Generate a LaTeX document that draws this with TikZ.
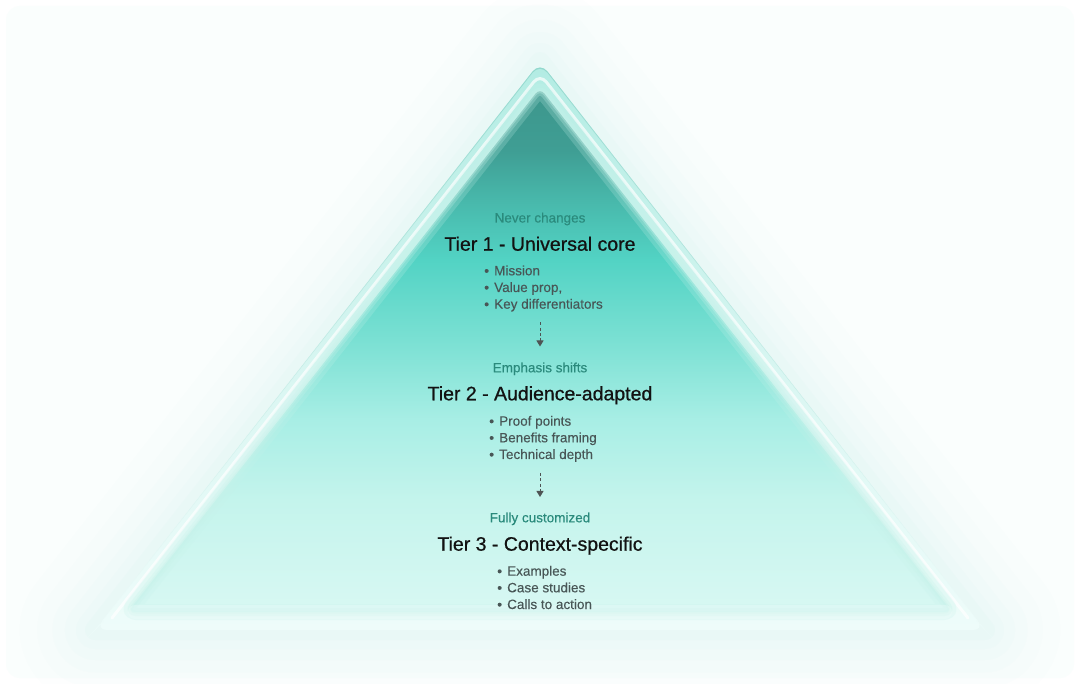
\documentclass[tikz,border=0pt]{standalone}
\usepackage{fontspec}
\setmainfont{Liberation Sans}
\newfontface\medfont{Liberation Sans}[FakeBold=0.7]
\newfontface\regfont{Liberation Sans}[FakeBold=0.25]
\usetikzlibrary{arrows.meta}

\definecolor{g0}{HTML}{D8F8F3}
\definecolor{g1}{HTML}{C4F4EC}
\definecolor{g2}{HTML}{A8EEE5}
\definecolor{g3}{HTML}{7AE0D3}
\definecolor{g4}{HTML}{52D3C4}
\definecolor{g5}{HTML}{48B8AB}
\definecolor{g6}{HTML}{3F9E94}
\definecolor{g7}{HTML}{3D968C}
\definecolor{bandtop}{HTML}{B2ECE3}
\definecolor{bandbot}{HTML}{EEFCFA}
\definecolor{bandline}{HTML}{8FD6CB}
\definecolor{glowc}{HTML}{D3F5EF}
\definecolor{softc}{HTML}{C6F2EA}
\definecolor{subc}{HTML}{2A8A7C}
\definecolor{itemc}{HTML}{485656}
\definecolor{arrc}{HTML}{4E5454}

\pgfdeclareverticalshading{tealgrad}{100bp}{color(0bp)=(g0); color(25bp)=(g0); color(35.7bp)=(g1); color(43.3bp)=(g2); color(51bp)=(g3); color(58.6bp)=(g4); color(64.3bp)=(g5); color(69bp)=(g6); color(75bp)=(g7); color(100bp)=(g7)}
\pgfdeclareverticalshading{bandgrad}{100bp}{color(0bp)=(bandbot); color(25bp)=(bandbot); color(45bp)=(bandbot!70!bandtop); color(75bp)=(bandtop); color(100bp)=(bandtop)}

\tikzset{
  subtxt/.style={font=\regfont\fontsize{13.5}{16}\selectfont, text=subc, anchor=base, inner sep=0pt},
  tiertxt/.style={font=\medfont\fontsize{19.5}{22}\selectfont, text=black!93, anchor=base, inner sep=0pt},
  itemtxt/.style={font=\regfont\fontsize{13.5}{16}\selectfont, text=itemc, anchor=base west, inner sep=0pt},
  dasharrow/.style={draw=arrc, line width=1pt, dash pattern=on 3pt off 2.3pt, -{Triangle[length=6pt,width=7pt]}},
}
\newcommand{\bul}{\makebox[10pt][l]{\raisebox{-0.3pt}{\fontsize{14}{14}\selectfont •}}}

\begin{document}
\begin{tikzpicture}[x=1pt,y=-1pt]
\useasboundingbox (0,0) rectangle (1080,684);
\fill[white] (0,0) rectangle (1080,684);
\fill[fill=glowc!12, rounded corners=14pt] (6,6) rectangle (1074,678);

% outer glow
\foreach \w/\o in {150/0.04,115/0.05,85/0.06,60/0.07,38/0.09,20/0.12}{
  \draw[glowc, line width=\w pt, line join=round, opacity=\o]
    (540,62) -- (95,630) -- (985,630) -- cycle;
}
% band
\shade[shading=bandgrad, rounded corners=12pt]
  (540,62) -- (95,630) -- (985,630) -- cycle;
\shade[top color=bandline, bottom color=bandbot, opacity=0.9]
  [rounded corners=12pt] (95,630) -- (540,62) -- (985,630)
  -- (984,629) -- (540,63.3) -- (96,629) -- cycle;
% highlight lines on band sides
\draw[white, line width=3pt, opacity=0.7, rounded corners=10pt, line cap=round]
  (112,618) -- (540,74) -- (968,618);

% inner teal triangle
\shade[shading=tealgrad, rounded corners=7pt]
  (540,88) -- (128,612) -- (952,612) -- cycle;
% soften its edges
\draw[softc, line width=16pt, opacity=0.22, rounded corners=8pt, line join=round]
  (540,88) -- (128,612) -- (952,612) -- cycle;
\draw[softc, line width=8pt, opacity=0.28, rounded corners=8pt, line join=round]
  (540,88) -- (128,612) -- (952,612) -- cycle;
\draw[softc, line width=3pt, opacity=0.35, rounded corners=8pt, line join=round]
  (540,88) -- (128,612) -- (952,612) -- cycle;
\draw[bandbot, line width=14pt, opacity=0.35, line cap=round]
  (135,612) -- (945,612);

% Tier 1
\node[subtxt] (s1) at (540,222.5) {Never changes};
\node[tiertxt] (t1) at (540,250.7) {Tier 1 - Universal core};
\node[itemtxt] (i1a) at (484,275.3) {\bul Mission};
\node[itemtxt] (i1b) at (484,292) {\bul Value prop,};
\node[itemtxt] (i1c) at (484,308.7) {\bul Key differentiators};
\coordinate (a1s) at (540,322.5);
\coordinate (a1e) at (540,346.5);
\draw[dasharrow] (a1s) -- (a1e);

% Tier 2
\node[subtxt] (s2) at (540,372.3) {Emphasis shifts};
\node[tiertxt] (t2) at (540,400.3) {Tier 2 - Audience-adapted};
\node[itemtxt] (i2a) at (489,425.7) {\bul Proof points};
\node[itemtxt] (i2b) at (489,442.3) {\bul Benefits framing};
\node[itemtxt] (i2c) at (489,459) {\bul Technical depth};
\coordinate (a2s) at (540,473);
\coordinate (a2e) at (540,497);
\draw[dasharrow] (a2s) -- (a2e);

% Tier 3
\node[subtxt] (s3) at (540,522.3) {Fully customized};
\node[tiertxt] (t3) at (540,550.7) {Tier 3 - Context-specific};
\node[itemtxt] (i3a) at (497,575.7) {\bul Examples};
\node[itemtxt] (i3b) at (497,592.3) {\bul Case studies};
\node[itemtxt] (i3c) at (497,609) {\bul Calls to action};
\end{tikzpicture}
\end{document}
